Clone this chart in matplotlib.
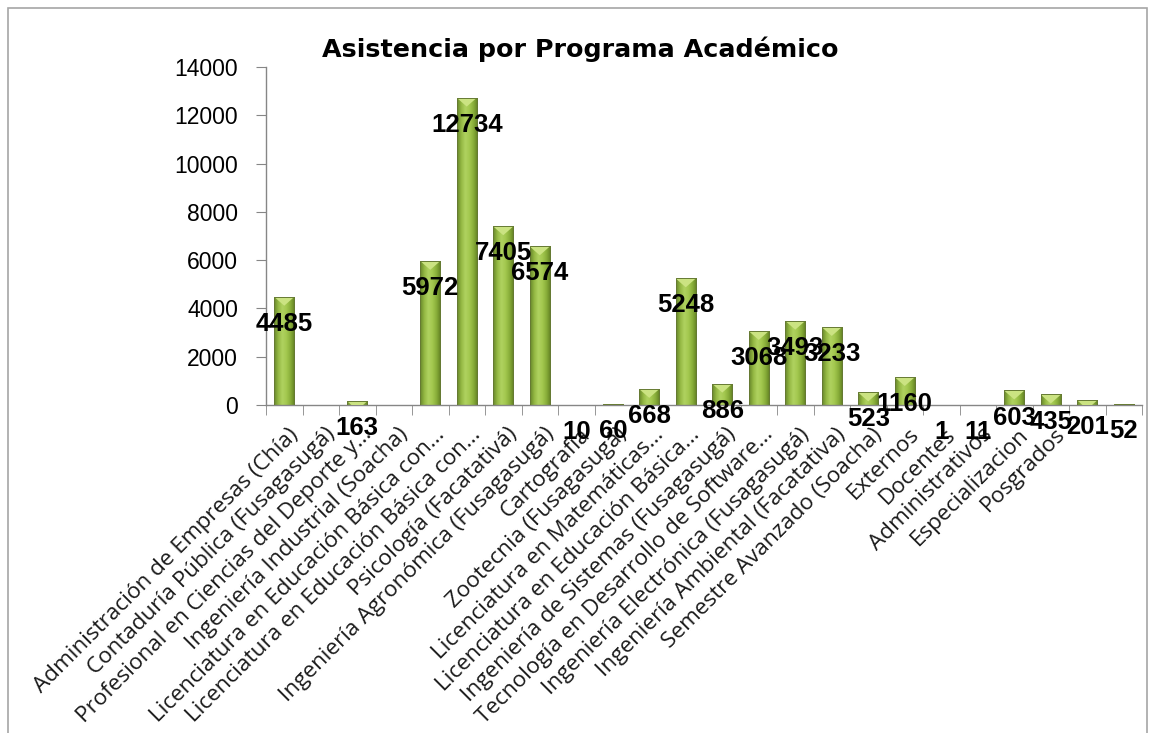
import numpy as np
import matplotlib
matplotlib.use("Agg")
import matplotlib.pyplot as plt
from matplotlib.colors import LinearSegmentedColormap
from matplotlib.patches import Polygon, Rectangle
from matplotlib.transforms import ScaledTranslation

# asistencia por programa
programas = [
    "Administración de Empresas (Chía)",
    "Contaduría Pública (Fusagasugá)",
    "Profesional en Ciencias del Deporte y...",
    "Ingeniería Industrial (Soacha)",
    "Licenciatura en Educación Básica con...",
    "Licenciatura en Educación Básica con...",
    "Psicología (Facatativá)",
    "Ingeniería Agronómica (Fusagasugá)",
    "Cartografía",
    "Zootecnia (Fusagasugá)",
    "Licenciatura en Matemáticas...",
    "Licenciatura en Educación Básica...",
    "Ingeniería de Sistemas (Fusagasugá)",
    "Tecnología en Desarrollo de Software...",
    "Ingeniería Electrónica (Fusagasugá)",
    "Ingeniería Ambiental (Facatativa)",
    "Semestre Avanzado (Soacha)",
    "Externos",
    "Docentes",
    "Administrativos",
    "Especializacion",
    "Posgrados",
    "",
    "",
]
asistencia = [4485, None, 163, None, 5972, 12734, 7405, 6574, 10, 60, 668, 5248,
              886, 3068, 3493, 3233, 523, 1160, 1, 11, 603, 435, 201, 52]
yticks = [0, 2000, 4000, 6000, 8000, 10000, 12000, 14000]
titulo = "Asistencia por Programa Académico"

W, H = 1153, 733
fig = plt.figure(figsize=(W / 100, H / 100), dpi=100)
ax = fig.add_axes([266 / W, 328 / H, 876 / W, 338 / H])

x = np.arange(len(programas))
vals = np.array([np.nan if v is None else v for v in asistencia], float)

ymax = 14000
ax.set_xlim(-0.5, len(programas) - 0.5)
ax.set_ylim(0, ymax)

bars = ax.bar(x, np.nan_to_num(vals), width=0.56, facecolor="none",
              edgecolor="#667a34", linewidth=0.7, zorder=4)

# sombreado tipo cilindro
verde = LinearSegmentedColormap.from_list(
    "verde", ["#66852a", "#94b843", "#b0d260", "#a3c84f", "#88ad39", "#607e22"])
grad = np.linspace(0, 1, 64).reshape(1, -1)
px_unit = ymax / 338.0
tri_h = 9 * px_unit

for b, v in zip(bars, vals):
    if np.isnan(v) or v <= 0:
        continue
    x0, w = b.get_x(), b.get_width()
    im = ax.imshow(grad, cmap=verde, extent=(x0, x0 + w, 0, v), aspect="auto",
                   interpolation="bicubic", zorder=2)
    im.set_clip_path(b)
    tri = Polygon([(x0, v), (x0 + w, v), (x0 + w / 2, v - tri_h)], closed=True,
                  facecolor="#cbe382", edgecolor="none", zorder=3)
    ax.add_patch(tri)
    tri.set_clip_path(b)

ax.set_xlim(-0.5, len(programas) - 0.5)
ax.set_ylim(0, ymax)

# etiquetas de datos
for xi, v in zip(x, vals):
    if np.isnan(v):
        continue
    ax.annotate(f"{int(v)}", (xi, v), xytext=(0, -19.5), textcoords="offset points",
                ha="center", va="center", fontsize=18.5, fontweight="bold",
                family="Liberation Sans", color="black", zorder=6,
                annotation_clip=False)

for s in ["top", "right"]:
    ax.spines[s].set_visible(False)
for s in ["left", "bottom"]:
    ax.spines[s].set_color("#868686")
    ax.spines[s].set_linewidth(1.0)

ax.set_yticks(yticks)
ax.set_yticklabels([str(t) for t in yticks], family="Liberation Sans", fontsize=16.5)
ax.tick_params(axis="y", direction="out", length=7, color="#868686", pad=13)

ax.set_xticks(x)
ax.set_xticks(np.arange(-0.5, len(programas), 1), minor=True)
ax.tick_params(axis="x", which="major", length=0, pad=19)
ax.tick_params(axis="x", which="minor", direction="out", length=7, color="#868686")
ax.set_xticklabels(programas, rotation=45, ha="right", va="center",
                   rotation_mode="anchor", family="Open Sans", fontsize=16.2,
                   color="#1a1a1a")
shift = ScaledTranslation(8 / 72, 0, fig.dpi_scale_trans)
for lbl in ax.get_xticklabels():
    lbl.set_transform(lbl.get_transform() + shift)

fig.text(580 / W, 1 - 49 / H, titulo, ha="center", va="center", fontsize=18.3,
         fontweight="bold", family="DejaVu Sans")

fig.add_artist(Rectangle((8 / W, -0.1), (1147 - 8) / W, (H - 8) / H + 0.1,
                         transform=fig.transFigure, fill=False,
                         edgecolor="#a6a6a6", linewidth=1.2))

fig.savefig("out.png", dpi=100)
